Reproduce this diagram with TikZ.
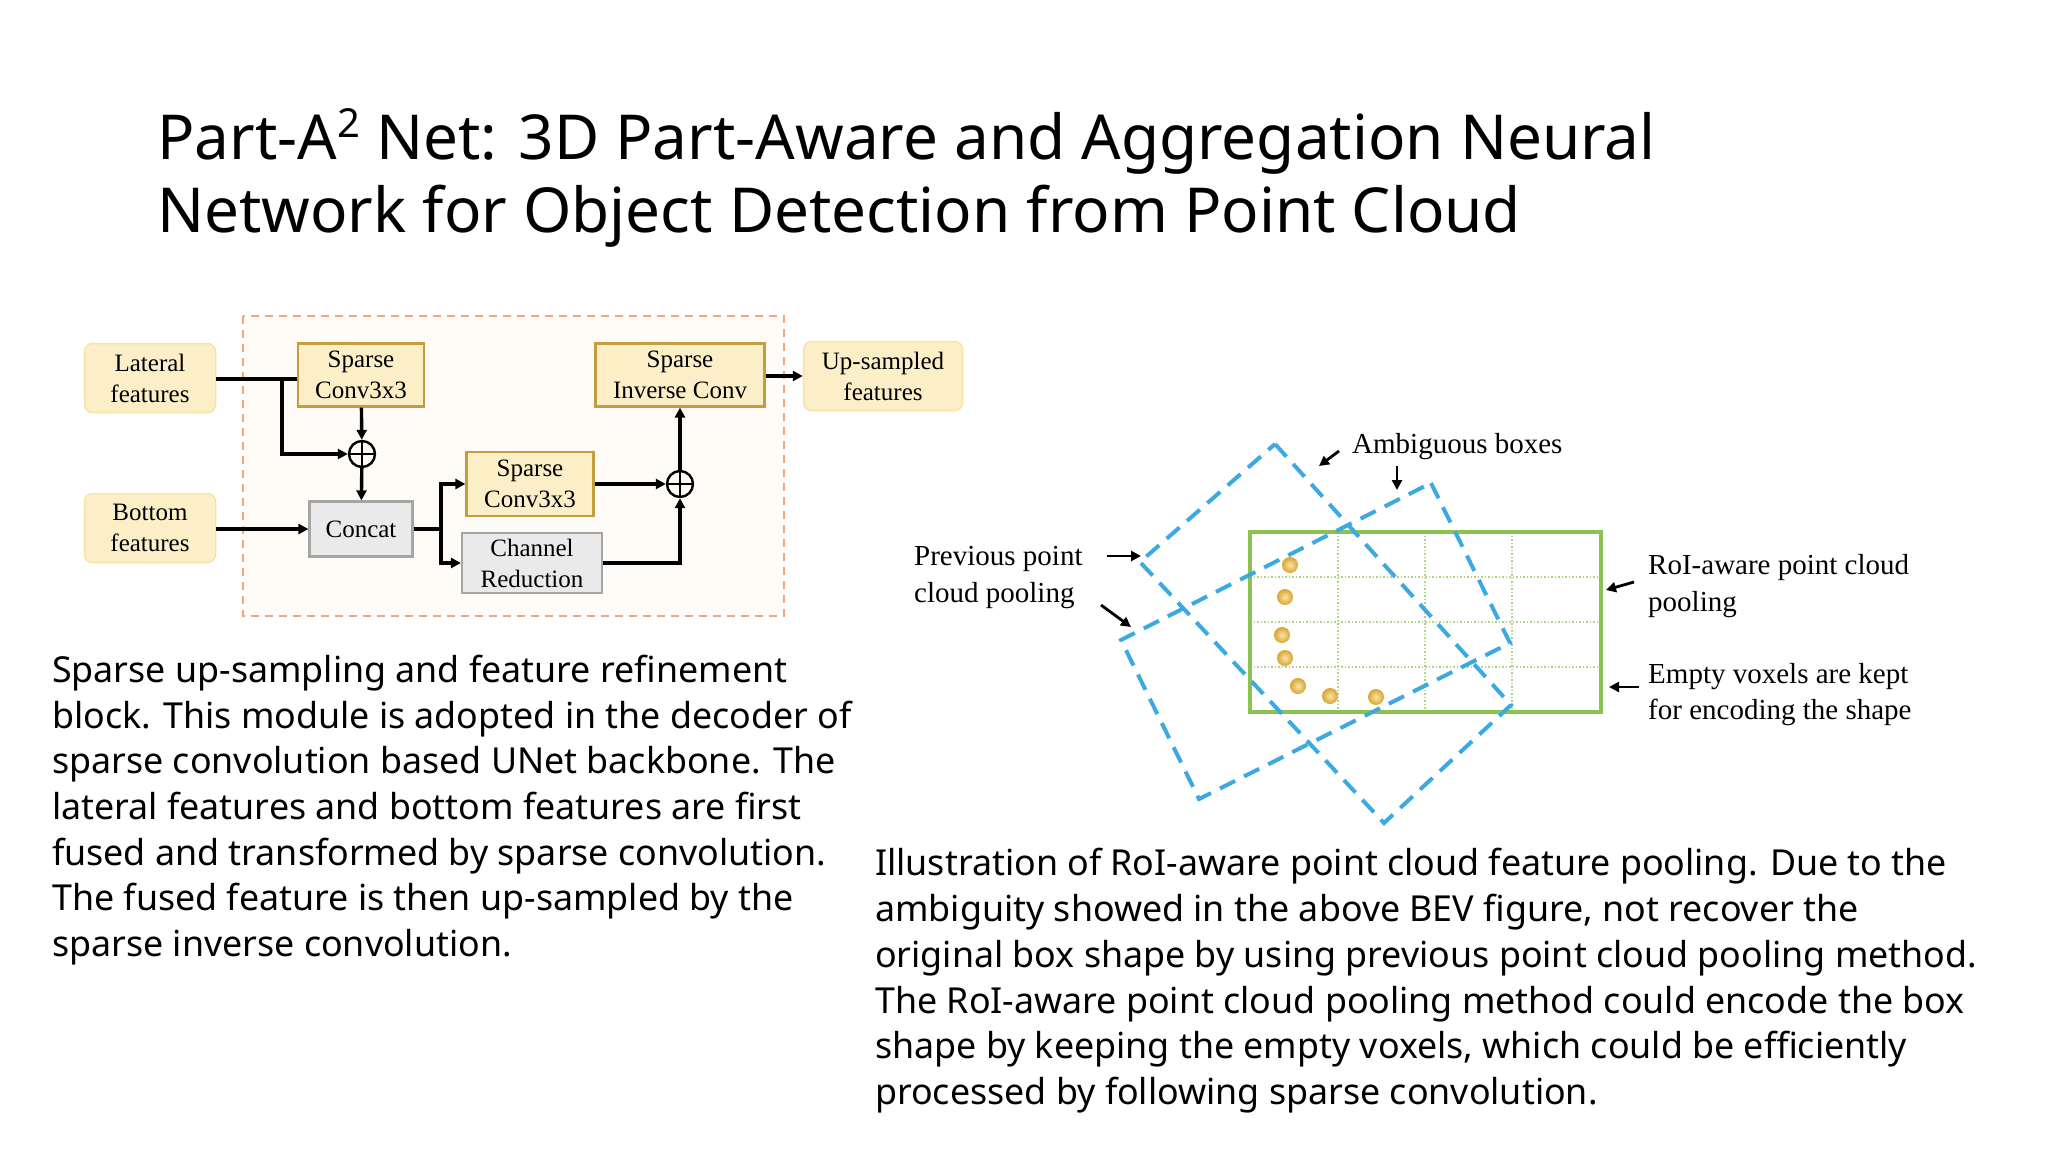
\documentclass[tikz,border=0pt]{standalone}
\usepackage{fontspec}
\setmainfont{Liberation Serif}
\newfontfamily\mysans{Noto Sans}
\usetikzlibrary{arrows.meta}
\definecolor{feat}{RGB}{252,239,200}
\definecolor{featb}{RGB}{248,226,165}
\definecolor{gold}{RGB}{196,158,62}
\definecolor{grayf}{RGB}{234,234,234}
\definecolor{grayb}{RGB}{165,165,165}
\definecolor{orng}{RGB}{238,168,128}
\definecolor{blu}{RGB}{60,170,225}
\definecolor{grn}{RGB}{140,195,80}
\definecolor{dot}{RGB}{240,185,50}
\tikzset{
 x=1pt,y=-1pt,
 lab/.style={font=\fontsize{25}{31}\selectfont,align=center,inner sep=0},
 featbox/.style={lab,draw=featb,fill=feat,rounded corners=8,line width=1.5,minimum width=131,minimum height=69},
 sbox/.style={lab,draw=gold,fill=feat,line width=2.2,minimum width=126,minimum height=63},
 gbox/.style={lab,draw=grayb,fill=grayf,line width=2.2},
 ar/.style={line width=3.4,-{Triangle[length=10,width=10]}},
 ln/.style={line width=3.4},
 op/.style={circle,draw,line width=2.4,minimum size=26,inner sep=0,
   path picture={\draw[line width=2] (path picture bounding box.north)--(path picture bounding box.south) (path picture bounding box.west)--(path picture bounding box.east);}},
 ttl/.style={font=\mysans\fontsize{62}{74}\selectfont,anchor=base west,inner sep=0},
 captxt/.style={font=\mysans\fontsize{35.8}{45}\selectfont,anchor=base west,inner sep=0},
 rl/.style={font=\fontsize{29}{36}\selectfont,anchor=base west,inner sep=0},
 sa/.style={line width=2.8,-{Triangle[length=10,width=10]}},
 bd/.style={draw=blu,line width=4,dash pattern=on 17 off 10},
}
\begin{document}
\begin{tikzpicture}
\useasboundingbox[fill=white] (0,0) rectangle (2048,1152);
% title
\node[ttl] (t1) at (157,159) {Part-A\raisebox{22pt}{\fontsize{40}{40}\selectfont 2} Net: 3D Part-Aware and Aggregation Neural};
\node[ttl] (t2) at (157,232) {Network for Object Detection from Point Cloud};
% left diagram
\draw[orng,fill=orange!3,line width=2,dash pattern=on 8 off 6] (243,316) rectangle (784,616);
\node[featbox] (lat) at (150,378) {Lateral\\features};
\node[featbox] (bot) at (150,528) {Bottom\\features};
\node[sbox] (sc1) at (361,375) {Sparse\\Conv3x3};
\node[sbox,minimum width=169] (sic) at (680,375) {Sparse\\Inverse Conv};
\node[featbox,minimum width=159] (ups) at (883,376) {Up-sampled\\features};
\node[op] (o1) at (362,454) {};
\node[gbox,minimum width=103,minimum height=55] (cc) at (361,529) {Concat};
\node[sbox,minimum width=127,minimum height=64] (sc2) at (530,484) {Sparse\\Conv3x3};
\node[gbox,minimum width=140,minimum height=60] (cr) at (532,563) {Channel\\Reduction};
\node[op] (o2) at (680,484) {};
\coordinate (b1) at (282,379);
\coordinate (b2) at (441,529);
\draw[ln] (lat.east|-b1) -- (sc1.west|-b1);
\draw[ar] (b1) |- (o1.west);
\draw[ar] (sc1) -- (o1);
\draw[ar] (o1) -- (cc);
\draw[ar] (bot.east|-cc) -- (cc.west);
\draw[ln] (cc.east) -- (b2);
\draw[ar] (b2) |- (sc2.west);
\draw[ar] (b2) |- (cr.west);
\draw[ar] (sc2) -- (o2);
\draw[ar] (cr.east) -| (o2.south);
\draw[ar] (o2) -- (sic);
\draw[ar] (sic.east|-ups) -- (ups.west);
% left caption
\node[captxt] (c1) at (52,682) {Sparse up-sampling and feature refinement};
\node[captxt] (c2) at (52,728) {block. This module is adopted in the decoder of};
\node[captxt] (c3) at (52,773) {sparse convolution based UNet backbone. The};
\node[captxt] (c4) at (52,819) {lateral features and bottom features are first};
\node[captxt] (c5) at (52,865) {fused and transformed by sparse convolution.};
\node[captxt] (c6) at (52,910) {The fused feature is then up-sampled by the};
\node[captxt] (c7) at (52,956) {sparse inverse convolution.};
% right diagram
\draw[grn!70,line width=1.5,dotted] (1338,532)--(1338,712) (1425,532)--(1425,712) (1512,532)--(1512,712)
  (1250,577)--(1601,577) (1250,622)--(1601,622) (1250,667)--(1601,667);
\draw[grn,line width=4] (1250,532) rectangle (1601,712);
\foreach \p in {(1290,565),(1285,597),(1282,635),(1285,658),(1298,686),(1330,696),(1376,697)}
  \shade[inner color=dot!40,outer color=dot!90!black] \p circle (8);
\draw[bd] (1275,444)--(1511,705)--(1384,823)--(1140,562)--cycle;
\draw[bd] (1431,483)--(1510,643)--(1199,799)--(1121,640)--cycle;
\node[rl] (amb) at (1352,453) {Ambiguous boxes};
\draw[sa] (1339,451)--(1319,466);
\draw[sa] (1397,466)--(1397,490);
\node[rl] (pp1) at (914,565) {Previous point};
\node[rl] (pp2) at (914,602) {cloud pooling};
\draw[sa] (1107,556)--(1141,556);
\draw[sa] (1101,605)--(1131,627);
\node[rl] (r1) at (1648,574) {RoI-aware point cloud};
\node[rl] (r2) at (1648,611) {pooling};
\draw[sa] (1634,582)--(1606,590);
\node[rl] (e1) at (1648,683) {Empty voxels are kept};
\node[rl] (e2) at (1648,719) {for encoding the shape};
\draw[sa] (1639,687)--(1609,687);
% right caption
\node[captxt] (d1) at (875,875) {Illustration of RoI-aware point cloud feature pooling. Due to the};
\node[captxt] (d2) at (875,921) {ambiguity showed in the above BEV figure, not recover the};
\node[captxt] (d3) at (875,967) {original box shape by using previous point cloud pooling method.};
\node[captxt] (d4) at (875,1013) {The RoI-aware point cloud pooling method could encode the box};
\node[captxt] (d5) at (875,1058) {shape by keeping the empty voxels, which could be efficiently};
\node[captxt] (d6) at (875,1104) {processed by following sparse convolution.};
\end{tikzpicture}
\end{document}
